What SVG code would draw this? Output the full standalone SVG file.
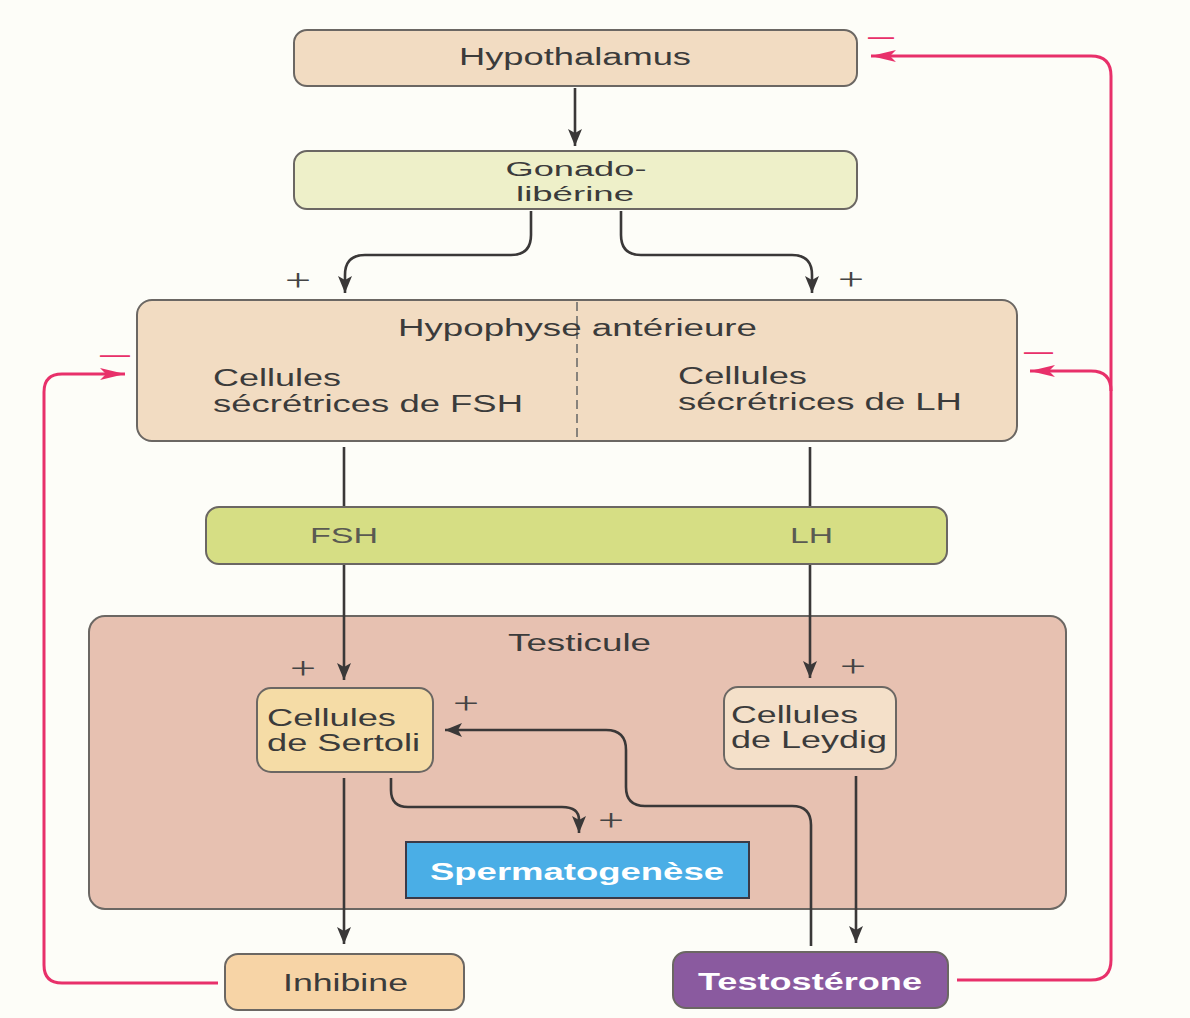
<svg xmlns="http://www.w3.org/2000/svg" width="1190" height="1018" viewBox="0 0 1190 1018">
<defs>
<marker id="ah" markerUnits="userSpaceOnUse" markerWidth="18" markerHeight="14" refX="17" refY="7" orient="auto">
<path d="M0,0 L17,7 L0,14 L4,7 z" fill="#3a3838"/>
</marker>
<marker id="ahp" markerUnits="userSpaceOnUse" markerWidth="26" markerHeight="12" refX="25" refY="6" orient="auto">
<path d="M0,0 L25,6 L0,12 L6,6 z" fill="#e8306a"/>
</marker>
</defs>
<style>
.bx{stroke:#6b6763;stroke-width:2}
.t{font-family:"Liberation Sans",Arial,sans-serif;font-size:23px;fill:#3b3b3b}
.t2{font-family:"Liberation Sans",Arial,sans-serif;font-size:20px;fill:#3b3b3b}
.tb{font-family:"Liberation Sans",Arial,sans-serif;font-size:23px;font-weight:bold;fill:#ffffff}
.tl{font-family:"Liberation Sans",Arial,sans-serif;font-size:22px;fill:#5a5a52}
.pl{font-family:"Liberation Serif","Times New Roman",serif;font-size:32px;fill:#444444}
.mn{font-family:"Liberation Sans",Arial,sans-serif;font-size:28px;fill:#e8306a}
.c{fill:none;stroke:#3a3838;stroke-width:2.6}
.cp{fill:none;stroke:#e8306a;stroke-width:3}
</style>
<rect width="1190" height="1018" fill="#fdfdf8"/>

<g id="testicule">
<rect class="bx" x="89" y="616" width="977" height="293" rx="16" fill="#e7c1b1"/>
<text class="t" x="508" y="651" textLength="143" lengthAdjust="spacingAndGlyphs">Testicule</text>
</g>

<g id="connectors">
<path class="c" d="M575,88 V146" marker-end="url(#ah)"/>
<path class="c" d="M531,211 V235 Q531,255 511,255 H365 Q345,255 345,275 V293" marker-end="url(#ah)"/>
<path class="c" d="M621,211 V235 Q621,255 641,255 H792 Q812,255 812,275 V293" marker-end="url(#ah)"/>
<path class="c" d="M344,447 V507"/>
<path class="c" d="M344,564 V680" marker-end="url(#ah)"/>
<path class="c" d="M810,447 V507"/>
<path class="c" d="M810,564 V678" marker-end="url(#ah)"/>
<path class="c" d="M344,778 V944" marker-end="url(#ah)"/>
<path class="c" d="M856,776 V943" marker-end="url(#ah)"/>
<path class="c" d="M391,778 V790 Q391,807 408,807 H562 Q579,807 579,820 V833" marker-end="url(#ah)"/>
<path class="c" d="M811,946 V825 Q811,806 792,806 H645 Q626,806 626,787 V750 Q626,730 606,730 H445" marker-end="url(#ah)"/>
<path class="cp" d="M957,980 H1091 Q1111,980 1111,960 V76 Q1111,56 1091,56 H871" marker-end="url(#ahp)"/>
<path class="cp" d="M1111,391 Q1111,371 1091,371 H1030" marker-end="url(#ahp)"/>
<path class="cp" d="M218,983 H62 Q44,983 44,965 V392 Q44,374 62,374 H125" marker-end="url(#ahp)"/>
<text class="pl" x="298" y="291" text-anchor="middle" textLength="26" lengthAdjust="spacingAndGlyphs">+</text>
<text class="pl" x="851" y="290" text-anchor="middle" textLength="26" lengthAdjust="spacingAndGlyphs">+</text>
<text class="pl" x="303" y="679" text-anchor="middle" textLength="26" lengthAdjust="spacingAndGlyphs">+</text>
<text class="pl" x="853" y="677" text-anchor="middle" textLength="26" lengthAdjust="spacingAndGlyphs">+</text>
<text class="pl" x="466" y="714" text-anchor="middle" textLength="26" lengthAdjust="spacingAndGlyphs">+</text>
<text class="pl" x="611" y="831" text-anchor="middle" textLength="26" lengthAdjust="spacingAndGlyphs">+</text>
<text class="mn" x="868" y="45" textLength="26" lengthAdjust="spacingAndGlyphs">—</text>
<text class="mn" x="1024" y="360" textLength="29" lengthAdjust="spacingAndGlyphs">—</text>
<text class="mn" x="100" y="363" textLength="30" lengthAdjust="spacingAndGlyphs">—</text>
</g>

<g id="hypothalamus">
<rect class="bx" x="294" y="30" width="563" height="56" rx="13" fill="#f2dcc2"/>
<text class="t" x="575" y="65" text-anchor="middle" textLength="232" lengthAdjust="spacingAndGlyphs">Hypothalamus</text>
</g>

<g id="gonadoliberine">
<rect class="bx" x="294" y="151" width="563" height="58" rx="13" fill="#eef0c9"/>
<text class="t2" x="576" y="176" text-anchor="middle" textLength="141" lengthAdjust="spacingAndGlyphs">Gonado-</text>
<text class="t2" x="575" y="201" text-anchor="middle" textLength="118" lengthAdjust="spacingAndGlyphs">libérine</text>
</g>

<g id="hypophyse">
<rect class="bx" x="137" y="300" width="880" height="141" rx="15" fill="#f2dcc2"/>
<line x1="577" y1="302" x2="577" y2="439" stroke="#666" stroke-width="1.5" stroke-dasharray="9,5"/>
<text class="t" x="398" y="336" textLength="359" lengthAdjust="spacingAndGlyphs">Hypophyse antérieure</text>
<text class="t" x="213" y="386" textLength="128" lengthAdjust="spacingAndGlyphs">Cellules</text>
<text class="t" x="213" y="412" textLength="310" lengthAdjust="spacingAndGlyphs">sécrétrices de FSH</text>
<text class="t" x="678" y="384" textLength="129" lengthAdjust="spacingAndGlyphs">Cellules</text>
<text class="t" x="678" y="410" textLength="284" lengthAdjust="spacingAndGlyphs">sécrétrices de LH</text>
</g>

<g id="fsh-lh">
<rect class="bx" x="206" y="507" width="741" height="57" rx="13" fill="#d6de84"/>
<text class="tl" x="310" y="543" textLength="68" lengthAdjust="spacingAndGlyphs">FSH</text>
<text class="tl" x="790" y="543" textLength="43" lengthAdjust="spacingAndGlyphs">LH</text>
</g>

<g id="sertoli">
<rect class="bx" x="257" y="688" width="176" height="84" rx="14" fill="#f5dca6"/>
<text class="t" x="267" y="726" textLength="129" lengthAdjust="spacingAndGlyphs">Cellules</text>
<text class="t" x="267" y="751" textLength="153" lengthAdjust="spacingAndGlyphs">de Sertoli</text>
</g>

<g id="leydig">
<rect class="bx" x="724" y="687" width="172" height="82" rx="14" fill="#f4e0c9"/>
<text class="t" x="731" y="723" textLength="127" lengthAdjust="spacingAndGlyphs">Cellules</text>
<text class="t" x="731" y="748" textLength="156" lengthAdjust="spacingAndGlyphs">de Leydig</text>
</g>

<g id="spermatogenese">
<rect x="406" y="842" width="343" height="56" fill="#4aaee6" stroke="#3a3a48" stroke-width="2"/>
<text class="tb" x="430" y="880" textLength="294" lengthAdjust="spacingAndGlyphs">Spermatogenèse</text>
</g>

<g id="inhibine">
<rect class="bx" x="225" y="954" width="239" height="56" rx="13" fill="#f7d4a6"/>
<text class="t" x="283" y="991" textLength="125" lengthAdjust="spacingAndGlyphs">Inhibine</text>
</g>

<g id="testosterone">
<rect class="bx" x="673" y="952" width="275" height="56" rx="13" fill="#8a5a9f"/>
<text class="tb" x="698" y="990" textLength="224" lengthAdjust="spacingAndGlyphs">Testostérone</text>
</g>
</svg>
